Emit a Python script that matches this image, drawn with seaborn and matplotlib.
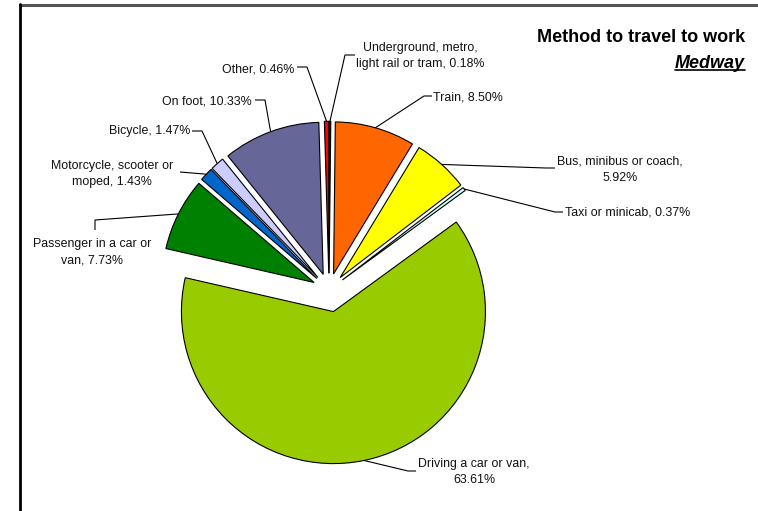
import matplotlib
matplotlib.use("Agg")
import matplotlib.pyplot as plt
import seaborn as sns
import numpy as np

sns.set_theme(style="white")
plt.rcParams['font.family'] = ['Liberation Sans', 'DejaVu Sans']

# ---- data ----
categories = ["Underground, metro,\nlight rail or tram", "Train", "Bus, minibus or coach,\n",
              "Taxi or minicab", "Driving a car or van,\n", "Passenger in a car or\nvan",
              "Motorcycle, scooter or\nmoped", "Bicycle", "On foot", "Other"]
values = [0.18, 8.50, 5.92, 0.37, 63.61, 7.73, 1.43, 1.47, 10.33, 0.46]
colors = ["#000000", "#FF6600", "#FFFF00", "#CCFFFF", "#99CC00", "#008000",
          "#0066CC", "#CCCCFF", "#666699", "#FF0000"]
explode_frac = [0.11, 0.11, 0.11, 0.11, 0.145, 0.11, 0.11, 0.11, 0.11, 0.11]

W, H = 758, 511
R = 152
fig = plt.figure(figsize=(W / 100, H / 100), dpi=100)
ax = fig.add_axes([0, 0, 1, 1])

def Y(y):
    return H - y

wedges, _ = ax.pie(values, colors=colors, startangle=90, counterclock=False,
                   explode=[e * R for e in explode_frac], center=(329, Y(290)), radius=R,
                   wedgeprops=dict(edgecolor="black", linewidth=0.8))
ax.set_xlim(0, W)
ax.set_ylim(0, H)
ax.axis("off")

# label layout: (text x, text y, ha, elbow points) in pixel coords (y down)
layout = [
    (420, 56, "center", [(345, 55), (355, 55)]),
    (433, 97, "left", [(424, 96), (432, 96)]),
    (620, 170, "center", [(546, 168), (555, 168)]),
    (565, 212, "left", [(555, 212), (563, 212)]),
    (474, 472, "center", [(408, 471), (416, 471)]),
    (92, 252, "center", [(95, 220), (95, 230)]),
    (112, 174, "center", [(204, 174), (180, 172)]),
    (190, 131, "right", [(202, 131), (192, 131)]),
    (252, 101, "right", [(265, 100), (255, 100)]),
    (294, 69, "right", [(307, 67), (297, 67)]),
]

for w, cat, val, (tx, ty, ha, elbows) in zip(wedges, categories, values, layout):
    mid = np.deg2rad((w.theta1 + w.theta2) / 2)
    ax_ = w.center[0] + w.r * np.cos(mid)
    ay_ = w.center[1] + w.r * np.sin(mid)
    xs = [ax_] + [p[0] for p in elbows]
    ys = [ay_] + [Y(p[1]) for p in elbows]
    ax.plot(xs, ys, color="black", lw=0.8, solid_capstyle="butt")
    if cat.endswith("\n"):
        label = f"{cat}{val:.2f}%"
    else:
        label = f"{cat}, {val:.2f}%"
    ax.text(tx, Y(ty), label, ha=ha, va="center", fontsize=8.9,
            multialignment="center", linespacing=1.45, color="#111111")

# title
ax.text(745, Y(37), "Method to travel to work", ha="right", va="center",
        fontsize=13, fontweight="bold", color="black")
t2 = ax.text(745, Y(63), "Medway", ha="right", va="center", fontsize=13,
             fontweight="bold", fontstyle="italic", color="black")
fig.canvas.draw()
bb = t2.get_window_extent(renderer=fig.canvas.get_renderer())
ax.plot([bb.x0, bb.x1], [Y(70), Y(70)], color="black", lw=1.2)

# frame (top and left borders)
ax.plot([20, W], [Y(5), Y(5)], color="#555555", lw=2.2, clip_on=False)
ax.plot([20, 20], [Y(4), 0], color="black", lw=2.0, clip_on=False)

fig.savefig("out.png", dpi=100)
